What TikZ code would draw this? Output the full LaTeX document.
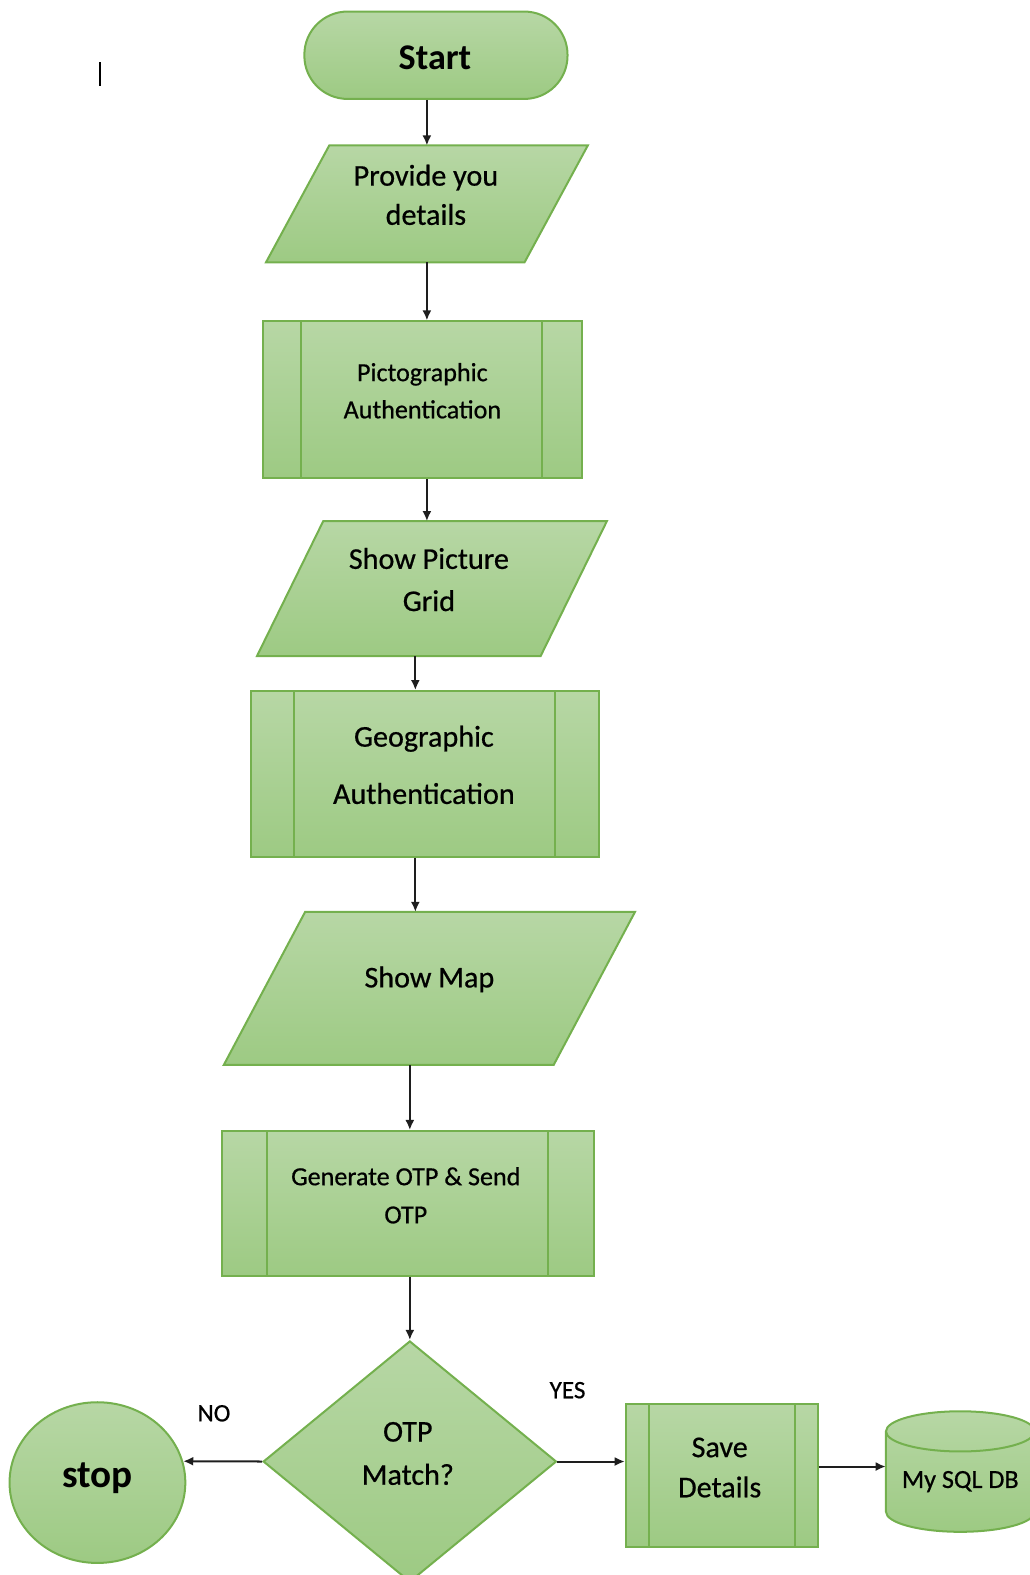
\documentclass[tikz,border=0pt]{standalone}
\usepackage{fontspec}
\setmainfont{Carlito}
\newfontfamily\medfont{Carlito}[FakeBold=0.6]
\usetikzlibrary{shapes.geometric,arrows.meta,calc,backgrounds}
\definecolor{gtop}{RGB}{183,215,165}
\definecolor{gbot}{RGB}{157,202,131}
\definecolor{gline}{RGB}{116,176,78}
\definecolor{arrowgray}{RGB}{30,30,30}
\tikzset{
  shade box/.style={draw=gline, line width=2pt, top color=gtop, bottom color=gbot},
  proc/.style={shade box, rectangle, inner sep=0pt},
  iobox/.style={rectangle, inner sep=0pt},
  txt/.style={inner sep=0pt, align=center},
  flow/.style={draw=arrowgray, line width=2pt, -{Latex[length=10pt,width=9pt]}},
  tag/.style={inner sep=0pt, font=\medfont\fontsize{25}{30}\selectfont},
  bar/.style={draw=gline, line width=2pt},
}
\begin{document}
\begin{tikzpicture}[x=1pt,y=-1pt]
  \useasboundingbox (0,0) rectangle (1025,1568);
  \clip (0,0) rectangle (1025,1568);
  \draw[line width=2pt] (100,62) -- (100,86);
  % shapes
  \node[shade box, rectangle, rounded corners=43pt, minimum width=262pt, minimum height=87pt] (start) at (434,55) {};
  \node[iobox, minimum width=257pt, minimum height=116pt] (provide) at (425,203) {};
  \node[proc, minimum width=317pt, minimum height=156pt] (picto) at (420.5,398) {};
  \node[iobox, minimum width=282pt, minimum height=134pt] (grid) at (430,586) {};
  \node[proc, minimum width=346pt, minimum height=165pt] (geo) at (423,770.5) {};
  \node[iobox, minimum width=328pt, minimum height=152pt] (map) at (427.5,984) {};
  \node[proc, minimum width=370pt, minimum height=144pt] (otp) at (406,1198) {};
  \node[shade box, diamond, minimum width=292pt, minimum height=240pt, inner sep=0pt] (match) at (408,1455) {};
  \node[shade box, ellipse, minimum width=175pt, minimum height=160pt, inner sep=0pt] (stop) at (97,1476) {};
  \node[proc, minimum width=191pt, minimum height=142pt] (save) at (718.5,1469) {};
  \node[iobox, minimum width=148pt, minimum height=120pt] (db) at (956,1472) {};
  % shapes behind the texts
  \begin{scope}[on background layer]
    \draw[shade box] ($(provide.north west)+(31.5,0)$) -- ($(provide.north east)+(31.5,0)$)
      -- ($(provide.south east)+(-31.5,0)$) -- ($(provide.south west)+(-31.5,0)$) -- cycle;
    \draw[shade box] ($(grid.north west)+(33,0)$) -- ($(grid.north east)+(33,0)$)
      -- ($(grid.south east)+(-33,0)$) -- ($(grid.south west)+(-33,0)$) -- cycle;
    \draw[shade box] ($(map.north west)+(40.5,0)$) -- ($(map.north east)+(40.5,0)$)
      -- ($(map.south east)+(-40.5,0)$) -- ($(map.south west)+(-40.5,0)$) -- cycle;
    \draw[shade box] ($(db.center)+(-74,-47)$) -- ($(db.center)+(-74,33)$)
      arc[start angle=180, end angle=360, x radius=74pt, y radius=20pt]
      -- ($(db.center)+(74,-47)$)
      arc[start angle=0, end angle=180, x radius=74pt, y radius=20pt] -- cycle;
    \draw[bar] ($(db.center)+(-74,-47)$)
      arc[start angle=180, end angle=360, x radius=74pt, y radius=20pt];
  \end{scope}
  % side bars
  \draw[bar] ($(picto.north west)+(39,0)$) -- ($(picto.south west)+(39,0)$);
  \draw[bar] ($(picto.north east)+(-40,0)$) -- ($(picto.south east)+(-40,0)$);
  \draw[bar] ($(geo.north west)+(44,0)$) -- ($(geo.south west)+(44,0)$);
  \draw[bar] ($(geo.north east)+(-44,0)$) -- ($(geo.south east)+(-44,0)$);
  \draw[bar] ($(otp.north west)+(46,0)$) -- ($(otp.south west)+(46,0)$);
  \draw[bar] ($(otp.north east)+(-46,0)$) -- ($(otp.south east)+(-46,0)$);
  \draw[bar] ($(save.north west)+(24,0)$) -- ($(save.south west)+(24,0)$);
  \draw[bar] ($(save.north east)+(-24,0)$) -- ($(save.south east)+(-24,0)$);
  % texts
  \node[txt, font=\bfseries\fontsize{36}{43}\selectfont] (start-t) at ($(start)+(-1,3)$) {Start};
  \node[txt, font=\medfont\fontsize{30}{39}\selectfont] (provide-t) at ($(provide)+(-1,-9)$) {Provide you\\details};
  \node[txt, font=\medfont\fontsize{26}{37}\selectfont] (picto-t) at ($(picto)+(0,-9)$) {Pictographic\\Authentication};
  \node[txt, font=\medfont\fontsize{30}{42}\selectfont] (grid-t) at ($(grid)+(-3,-9)$) {Show Picture\\Grid};
  \node[txt, font=\medfont\fontsize{30}{57}\selectfont] (geo-t) at ($(geo)+(-1,-9)$) {Geographic\\Authentication};
  \node[txt, font=\medfont\fontsize{30}{36}\selectfont] (map-t) at ($(map)+(0,-9)$) {Show Map};
  \node[txt, font=\medfont\fontsize{26}{38}\selectfont] (otp-t) at ($(otp)+(-2,-8)$) {Generate OTP \& Send\\OTP};
  \node[txt, font=\medfont\fontsize{30}{43}\selectfont] (match-t) at ($(match)+(-2,-8)$) {OTP\\Match?};
  \node[txt, font=\bfseries\fontsize{39}{46}\selectfont] (stop-t) at ($(stop)+(0,-4)$) {stop};
  \node[txt, font=\medfont\fontsize{30}{40}\selectfont] (save-t) at ($(save)+(-2,-8)$) {Save\\Details};
  \node[txt, font=\medfont\fontsize{26}{31}\selectfont] (db-t) at ($(db)+(0,3)$) {My SQL DB};
  \node[tag] (no) at (213,1407) {NO};
  \node[tag] (yes) at (565,1384) {YES};
  % connectors
  \coordinate (lane) at (413.5,0);
  \coordinate (dbin) at ($(save.east)+(0,-9)$);
  \draw[flow] (provide.north |- start.south) -- (provide.north);
  \draw[flow] (provide.south) -- (provide.south |- picto.north);
  \draw[flow] (picto.south -| provide.south) -- (grid.north -| provide.south);
  \draw[flow] (grid.south -| lane) -- (geo.north -| lane);
  \draw[flow] (geo.south -| lane) -- (map.north -| lane);
  \draw[flow] (map.south -| match.north) -- (otp.north -| match.north);
  \draw[flow] (otp.south -| match.north) -- (match.north);
  \draw[flow] (match.west) -- (stop.14);
  \draw[flow] (match.east) -- (match.east -| save.west);
  \draw[flow] (dbin) -- (dbin -| db.west);
\end{tikzpicture}
\end{document}
